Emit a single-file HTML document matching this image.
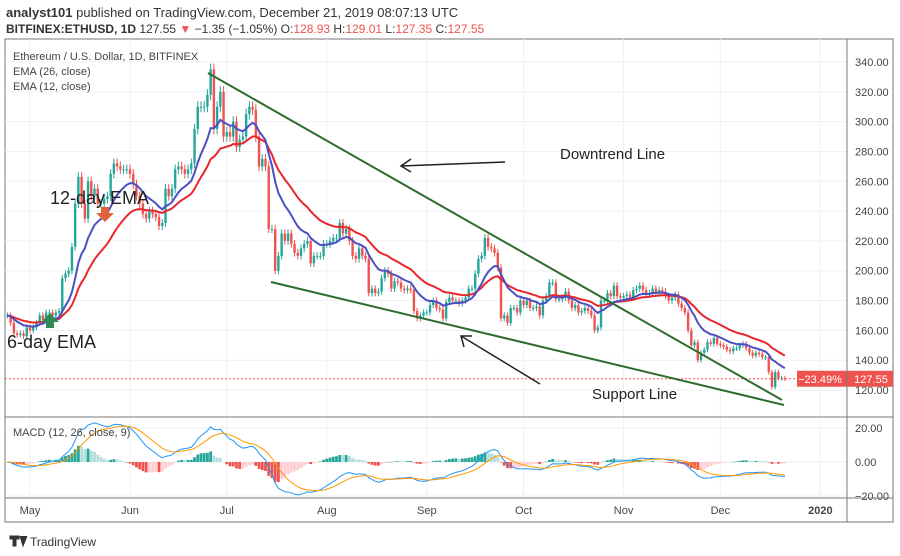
<!DOCTYPE html>
<html><head><meta charset="utf-8">
<style>
body{margin:0;background:#fff;width:900px;height:556px;overflow:hidden;font-family:"Liberation Sans",sans-serif}
svg{position:absolute;left:0;top:0}
</style></head><body>
<svg id="c" width="900" height="556">
<text x="6" y="17" font-size="13" fill="#333"><tspan font-weight="bold">analyst101</tspan> published on TradingView.com, December 21, 2019 08:07:13 UTC</text>
<text x="6" y="33" font-size="12" fill="#333"><tspan font-weight="bold">BITFINEX:ETHUSD, 1D</tspan> 127.55 <tspan fill="#ef5350">▼</tspan> −1.35 (−1.05%) O:<tspan fill="#ef5350">128.93</tspan> H:<tspan fill="#ef5350">129.01</tspan> L:<tspan fill="#ef5350">127.35</tspan> C:<tspan fill="#ef5350">127.55</tspan></text>
<rect x="5" y="39" width="888" height="483" fill="none" stroke="#777"/>
<g id="grid"></g>
<g id="marks"></g>
<line x1="847" y1="39" x2="847" y2="522" stroke="#777"/>
<line x1="5" y1="417" x2="893" y2="417" stroke="#777"/>
<line x1="5" y1="498" x2="893" y2="498" stroke="#777"/>
<text x="13" y="60" font-size="11" fill="#444">Ethereum / U.S. Dollar, 1D, BITFINEX</text>
<text x="13" y="75" font-size="11" fill="#444">EMA (26, close)</text>
<text x="13" y="90" font-size="11" fill="#444">EMA (12, close)</text>
<text x="13" y="436" font-size="11" fill="#444">MACD (12, 26, close, 9)</text>
<line x1="208" y1="73" x2="782" y2="400" stroke="#2e6b2e" stroke-width="2"/>
<line x1="271" y1="282" x2="784" y2="405" stroke="#2e6b2e" stroke-width="2"/>
<g stroke="#222" stroke-width="1.5" fill="none"><line x1="505" y1="162" x2="401" y2="166"/><polyline points="411,159 401,166 411,172"/></g>
<g stroke="#222" stroke-width="1.5" fill="none"><line x1="540" y1="384" x2="461" y2="336"/><polyline points="464,347 461,336 472,336"/></g>
<text x="560" y="159" font-size="15" fill="#222">Downtrend Line</text>
<text x="592" y="399" font-size="15" fill="#222">Support Line</text>
<text x="50" y="204" font-size="18" fill="#222">12-day EMA</text>
<text x="7" y="348" font-size="18" fill="#222">6-day EMA</text>
<path d="M101,207 h8 v6 h5 l-9,9 l-9,-9 h5z" fill="#e0603a"/>
<path d="M46,328 h8 v-6 h5 l-9,-9 l-9,9 h5z" fill="#2e8b57"/>
<text x="30" y="546" font-size="12" fill="#333">TradingView</text>
<path d="M10,536 h9 v3 h-3 v7 h-3 v-7 h-3z M20,536 l3,10 l4,-10" fill="#333" stroke="#333" stroke-width="1"/>
</svg>
<script>
const months=["May","Jun","Jul","Aug","Sep","Oct","Nov","Dec","2020"];
const monthDays=[7,38,68,99,130,160,191,221,252];
const priceTicks=[120,140,160,180,200,220,240,260,280,300,320,340];
const macdTicks=[20,0,-20];
const closes=[170,165,158,157,158,156,162,
160,162,165,170,167,172,172,170,172,173,195,198,200,216,245,263,245,235,260,250,255,245,245,248,250,265,272,270,268,268,268,
265,258,250,245,238,235,240,238,236,230,232,255,250,255,268,270,268,265,268,272,295,310,310,310,318,335,295,310,320,290,
293,290,300,283,288,290,305,310,308,290,270,275,270,228,228,200,210,225,220,225,218,212,210,215,218,220,205,210,210,210,218,
218,220,222,222,232,225,228,220,210,208,215,210,208,185,188,185,186,195,200,198,188,193,192,188,187,188,187,173,168,170,172,
172,177,180,175,174,168,179,182,180,180,178,180,182,188,188,198,208,210,222,216,215,212,202,168,170,165,175,175,172,180,
177,180,175,175,176,170,180,183,192,192,181,181,182,186,180,175,177,172,173,175,173,170,160,162,180,180,185,183,190,183,182,
183,184,182,187,188,190,187,184,185,188,185,187,186,183,180,182,184,178,175,172,160,150,152,140,145,147,152,151,155,151,
150,149,147,146,148,148,150,151,148,145,143,145,144,142,142,132,122,132,128,128,127.55];
const NS="http://www.w3.org/2000/svg";
const X=i=>30+(i-7)*3.226;
const Y=p=>62+(340-p)*1.491;
const MY=v=>462-v*1.7;
function mk(tag,attrs,parent){const e=document.createElementNS(NS,tag);for(const k in attrs)e.setAttribute(k,attrs[k]);parent.appendChild(e);return e;}
const grid=document.getElementById('grid'),marks=document.getElementById('marks');
priceTicks.forEach(p=>{
 const l=mk('line',{x1:5,x2:847,y1:Y(p),y2:Y(p),stroke:'#edf1f5'},grid);
 
 
 const t=mk('text',{x:855,y:Y(p)+4,'font-size':11,fill:'#444'},grid);t.textContent=p.toFixed(2);
 
 
});
macdTicks.forEach(v=>{
 const l=mk('line',{x1:5,x2:847,y1:MY(v),y2:MY(v),stroke:'#edf1f5'},grid);
 
 
 const t=mk('text',{x:855,y:MY(v)+4,'font-size':11,fill:'#444'},grid);t.textContent=(v<0?'−':'')+Math.abs(v).toFixed(2);
 
 
});
months.forEach((m,k)=>{
 const x=X(monthDays[k]);
 const l=mk('line',{x1:x,x2:x,y1:39,y2:498,stroke:'#edf1f5'},grid);
 
 
 const t=mk('text',{x:x,y:514,'font-size':11,fill:'#444','text-anchor':'middle','font-weight':m==='2020'?'bold':'normal'},grid);t.textContent=m;
 
 
});
function ema(arr,n){const a=2/(n+1);let out=[],v=arr[0];arr.forEach(c=>{v=c*a+v*(1-a);out.push(v);});return out;}
const e12=ema(closes,12),e26=ema(closes,26);
const macd=e12.map((v,i)=>v-e26[i]);const sig=ema(macd,9);
// candles
closes.forEach((c,i)=>{
 const o=i?closes[i-1]:c;const up=c>=o;const col=up?'#26a69a':'#ef5350';
 const hi=Math.max(o,c)*1.012,lo=Math.min(o,c)*0.988;
 const x=X(i);
 const w=mk('line',{x1:x,x2:x,y1:Y(hi),y2:Y(lo),stroke:col,'stroke-width':1},marks);
 
 
 const b=mk('rect',{x:x-1.2,y:Y(Math.max(o,c)),width:2.4,height:Math.max(1,Math.abs(Y(o)-Y(c))),fill:col},marks);
 
 
 const d=macd[i]-sig[i];const prev=i?macd[i-1]-sig[i-1]:d;
 const hc=d>=0?(d>=prev?'#26a69a':'#b2dfdb'):(d<prev?'#ef5350':'#ffcdd2');
 const h=mk('rect',{x:x-1.4,y:Math.min(MY(d),MY(0)),width:2.8,height:Math.max(0.5,Math.abs(MY(d)-MY(0))),fill:hc},marks);
 
 
});
function line(arr,f,col,name,w){
 const p=mk('polyline',{points:arr.map((v,i)=>X(i)+','+f(v)).join(' '),fill:'none',stroke:col,'stroke-width':w},marks);
 
 
}
line(e26,Y,'#e8262c','ema26-line',2);
line(e12,Y,'#4b4fc4','ema12-line',2);
line(macd,MY,'#2196f3','macd-line',1);
line(sig,MY,'#ff9800','signal-line',1);
const last=closes[closes.length-1];
const dl=mk('line',{x1:5,x2:847,y1:Y(last),y2:Y(last),stroke:'#ef5350','stroke-dasharray':'2,2'},marks);


const r=mk('rect',{x:797,y:Y(last)-8,width:96,height:16,fill:'#ef5350'},marks);


const t1=mk('text',{x:820,y:Y(last)+4,'font-size':11,fill:'#fff','text-anchor':'middle'},marks);t1.textContent='−23.49%';


const t2=mk('text',{x:871,y:Y(last)+4,'font-size':11,fill:'#fff','text-anchor':'middle'},marks);t2.textContent=last.toFixed(2);


</script>
</body></html>
